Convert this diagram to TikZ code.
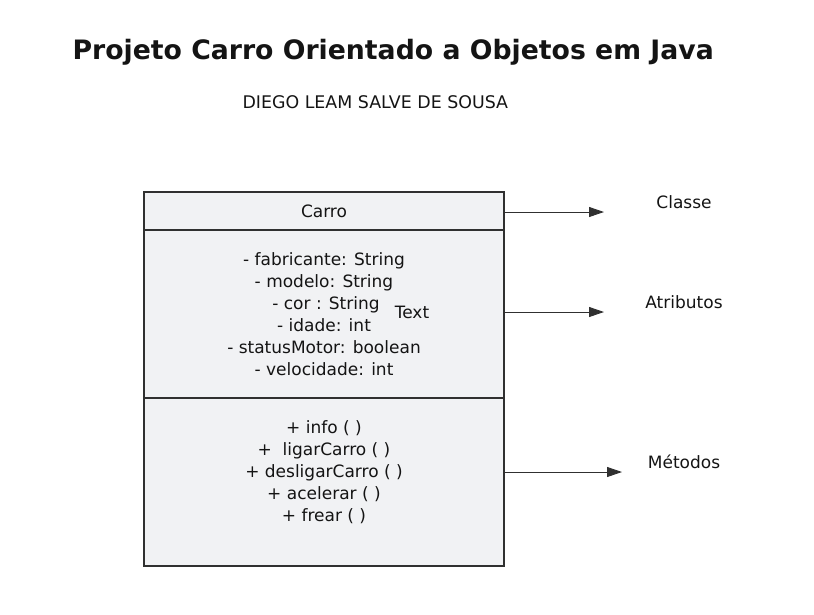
\documentclass[tikz,border=0pt]{standalone}
\usepackage{fontspec}
\setmainfont{DejaVu Sans}
\usetikzlibrary{arrows.meta}

\definecolor{ink}{HTML}{303030}
\definecolor{letters}{HTML}{141414}
\definecolor{panel}{HTML}{F1F2F4}

\begin{document}
\begin{tikzpicture}
  [x=1pt,y=-1pt,every node/.style={text=letters,font=\fontsize{17}{22}\selectfont}]

  \tikzstyle{part}  = [draw=ink,line width=1.6pt,fill=panel,minimum width=360pt,inner sep=0pt]
  \tikzstyle{lines} = [align=center,inner sep=0pt]
  \tikzstyle{link}  = [draw=ink,line width=0.9pt,-{Triangle[length=15pt,width=10pt]}]

  \useasboundingbox (0,0) rectangle (814,614);

  \node[anchor=west,font=\fontsize{26.7}{32}\selectfont\bfseries] (title) at (69,52)
       {Projeto Carro Orientado a Objetos em Java};
  \node[anchor=west,font=\fontsize{17.4}{20}\selectfont] (autor) at (239,102)
       {DIEGO LEAM SALVE DE SOUSA};

  \node[part,minimum height=38pt]  (carro)   at (324,211) {Carro};
  \node[part,minimum height=168pt] (attrs)   at (324,314) {};
  \node[part,minimum height=168pt] (methods) at (324,482) {};

  \node[lines] (attrtext) at (324,314)
       {- fabricante: String\\- modelo: String\\\hspace*{4pt}- cor : String\\- idade: int\\- statusMotor: boolean\\- velocidade: int};
  \node[lines] (stray) at (412,312) {Text};
  \node[lines] (methtext) at (324,472)
       {+ info ( )\\+\ \ ligarCarro ( )\\+ desligarCarro ( )\\+ acelerar ( )\\+ frear ( )};

  \node (classe)   at (684,202) {Classe};
  \node (atributos) at (684,302) {Atributos};
  \node (metodos)  at (684,462) {Métodos};

  \coordinate (ctip) at (604,212);
  \coordinate (atip) at (604,312);
  \coordinate (mtip) at (622,472);

  \path[link] (carro.east |- ctip)   -- (ctip);
  \path[link] (attrs.east |- atip)   -- (atip);
  \path[link] (methods.east |- mtip) -- (mtip);
\end{tikzpicture}
\end{document}
